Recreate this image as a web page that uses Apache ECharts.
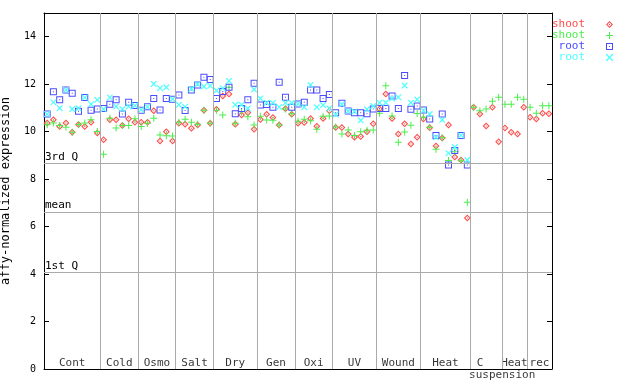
<!DOCTYPE html>
<html><head><meta charset="utf-8">
<script src="https://cdn.jsdelivr.net/npm/echarts@6/dist/echarts.min.js"></script>
<style>html,body{margin:0;padding:0;background:#fff}#c{width:640px;height:384px}</style>
</head><body><div id="c"></div>
<script>
// ---- data ----
const groupNames = ['Cont','Cold','Osmo','Salt','Dry','Gen','Oxi','UV','Wound','Heat','C','Heat','rec'];
const groupSizes = [9,6,6,6,7,6,6,7,7,8,5,4,4];
const refLabels = ['3rd Q','mean','1st Q'];
const refValues = [8.67, 6.61, 4.08];
const yTickValues = [0,2,4,6,8,10,12,14];
const legendLabels = ['shoot','shoot','root','root'];

const shootRep1 = [
 10.36,10.50,10.22,10.36,9.98,10.30,10.22,10.40,9.94,
 9.66,10.50,10.50,10.26,10.54,10.40,
 10.40,10.40,10.88,9.61,10.00,9.61,
 10.35,10.31,10.14,10.28,10.90,10.35,
 10.94,11.50,11.59,10.31,10.70,10.80,10.10,
 10.51,10.73,10.60,10.28,10.97,10.73,
 10.35,10.39,10.55,10.23,10.56,10.88,
 10.18,10.18,9.90,9.77,9.80,10.00,10.33,
 10.96,11.59,10.55,9.90,10.33,9.48,9.76,
 10.53,10.17,9.40,9.73,10.28,8.93,8.81,6.36,
 11.03,10.74,10.24,11.03,9.57,
 10.15,9.98,9.90,11.03,
 10.61,10.53,10.78,10.75
];
const shootRep2 = [
 10.29,10.36,10.26,10.19,9.98,10.30,10.36,10.50,10.01,
 9.05,10.57,10.15,10.26,10.26,10.54,
 10.22,10.35,10.57,9.86,9.83,9.82,
 10.40,10.52,10.40,10.31,10.90,10.35,
 10.90,10.70,11.87,10.35,10.84,10.63,10.28,
 10.65,10.49,10.48,10.28,10.95,10.76,
 10.44,10.52,10.46,10.10,10.65,10.66,
 10.20,9.90,10.07,9.84,10.00,10.06,10.07,
 10.78,11.93,10.66,9.55,9.99,10.27,10.77,
 10.61,10.19,9.26,9.74,8.78,9.15,8.77,7.03,
 11.03,10.88,10.95,11.28,11.45,
 11.16,11.16,11.45,11.37,
 11.03,10.78,11.09,11.09
];
const rootRep1 = [
 10.74,11.68,11.34,11.76,11.62,10.86,11.44,10.90,10.95,
 10.98,11.16,11.34,10.74,11.24,11.10,
 10.90,11.05,11.40,10.91,11.40,11.37,
 11.55,10.89,11.76,11.97,12.29,12.20,
 11.40,11.69,11.87,10.75,10.98,11.34,12.04,
 11.12,11.14,11.03,12.08,11.45,11.03,
 11.17,11.24,11.76,11.76,11.40,11.57,
 10.80,11.20,10.87,10.80,10.80,10.75,10.95,
 10.98,10.98,11.50,10.98,12.37,10.94,11.08,
 10.91,10.53,9.84,10.74,8.60,9.21,9.84,8.60
];
const rootRep2 = [
 10.74,11.24,10.99,11.76,10.95,10.99,11.44,11.16,11.34,
 10.95,11.44,11.06,10.95,11.06,11.10,
 10.92,11.05,12.01,11.83,11.87,11.37,
 11.13,11.05,11.80,12.00,11.90,11.93,
 11.73,11.83,12.14,11.13,11.13,10.98,11.78,
 11.40,11.22,11.21,11.04,11.21,11.21,
 11.17,11.03,11.97,11.03,11.12,10.98,
 10.72,11.15,10.87,10.85,10.48,10.94,11.08,
 11.22,11.22,11.40,11.45,11.95,11.22,11.36,
 10.89,10.74,9.76,10.50,9.09,9.35,9.84,8.81
];

// ---- derived ----
const toXY = arr => arr.map((v,i)=>[i,v]);
const bounds = [], centers = [];
let start = 0;
groupSizes.forEach((n,k)=>{
  centers.push(start + (n-1)/2);
  start += n;
  if (k < groupSizes.length-1) bounds.push(start - 0.5);
});
const nPts = start;

const MONO = 'DejaVu Sans Mono';
const sym = {
  diamond: 'path://M3.5,0L7,3.5L3.5,7L0,3.5Z M3.5,1.5L1.5,3.5L3.5,5.5L5.5,3.5Z M3,3H4V4H3Z',
  plus: 'path://M3,0H4V7H3Z M0,3H7V4H0Z',
  square: 'path://M0,0H7V7H0Z M1,1V6H6V1Z M3,3H4V4H3Z',
  cross: 'path://M0,0L1,0L3.5,2.5L6,0L7,0L7,1L4.5,3.5L7,6L7,7L6,7L3.5,4.5L1,7L0,7L0,6L2.5,3.5L0,1Z'
};
const colors = ['#ff4c4c','#4cee4c','#4c4cff','#4cffff'];
const seriesIds = ['s1','s2','r1','r2'];
const seriesData = [shootRep1, shootRep2, rootRep1, rootRep2];
const seriesSym = [sym.diamond, sym.plus, sym.square, sym.cross];
const seriesSize = [7,7,7,6];

const labelData = centers.map((c,k)=>({value:[c,0], label:{formatter: groupNames[k], offset: groupNames[k]==='C'?[-6,0]:[0,0]}}));
const suspIdx = groupNames.indexOf('C');
labelData.push({value:[centers[suspIdx],0], label:{formatter:'suspension', position:'bottom', distance:1, offset:[16,0]}});

const series = seriesIds.map((id,k)=>({
  name: id, type:'scatter', z:3, animation:false,
  data: toXY(seriesData[k]),
  symbol: seriesSym[k], symbolSize: seriesSize[k],
  itemStyle:{color: colors[k], opacity:1},
  emphasis:{disabled:true}
}));
series.unshift({
  name:'groups', type:'scatter', z:1, clip:false, silent:true, animation:false,
  symbolSize:0, data: labelData,
  label:{show:true, position:'top', distance:0, color:'#000', fontFamily:MONO, fontSize:11},
  markLine:{
    silent:true, symbol:'none', animation:false,
    lineStyle:{color:'#aaaaaa', type:'solid', width:1},
    label:{show:false},
    data: bounds.map(b=>({xAxis:b})).concat(refValues.map((v,k)=>({
      yAxis:v,
      label:{show:true, formatter: refLabels[k], position:'insideStartTop', distance:[1,1], color:'#000', fontFamily:MONO, fontSize:11}
    })))
  }
});

const chart = echarts.init(document.getElementById('c'), null, {renderer:'canvas'});
chart.setOption({
  animation:false,
  backgroundColor:'#fff',
  grid:{left:44, right:88, top:13, bottom:15, containLabel:false, outerBoundsMode:'none'},
  legend:{
    data: seriesIds.map((id,k)=>({name:id, textStyle:{color:colors[k]}})),
    formatter: n => legendLabels[seriesIds.indexOf(n)],
    orient:'vertical', right:22, top:14, align:'right',
    itemWidth:7, itemHeight:7, itemGap:0, selectedMode:false,
    textStyle:{fontFamily:MONO, fontSize:11, lineHeight:11, padding:[0,16,0,0]}
  },
  xAxis:[
    {type:'value', min:-0.5, max:nPts-0.5, position:'bottom',
     axisLine:{show:true, onZero:false, lineStyle:{color:'#000', width:1}},
     axisTick:{show:false}, axisLabel:{show:false}, splitLine:{show:false}},
    {type:'value', min:-0.5, max:nPts-0.5, position:'top',
     axisLine:{show:true, onZero:false, lineStyle:{color:'#000', width:1}},
     axisTick:{show:false}, axisLabel:{show:false}, splitLine:{show:false}}
  ],
  yAxis:[
    {type:'value', min:0, max:15, interval:2, position:'left',
     name:'affy-normalized expression', nameLocation:'middle', nameGap:32, nameRotate:90,
     nameTextStyle:{fontFamily:MONO, fontSize:12, color:'#000'},
     axisLine:{show:true, onZero:false, lineStyle:{color:'#000', width:1}},
     axisTick:{show:true, inside:true, length:5, lineStyle:{color:'#000'}},
     axisLabel:{show:true, margin:8, color:'#000', fontFamily:MONO, fontSize:10,
       formatter: v => yTickValues.includes(v) ? String(v) : ''},
     splitLine:{show:false}},
    {type:'value', min:0, max:15, interval:2, position:'right',
     axisLine:{show:true, onZero:false, lineStyle:{color:'#000', width:1}},
     axisTick:{show:true, inside:true, length:5, lineStyle:{color:'#000'}},
     axisLabel:{show:false}, splitLine:{show:false}}
  ],
  series: series
});
</script></body></html>
